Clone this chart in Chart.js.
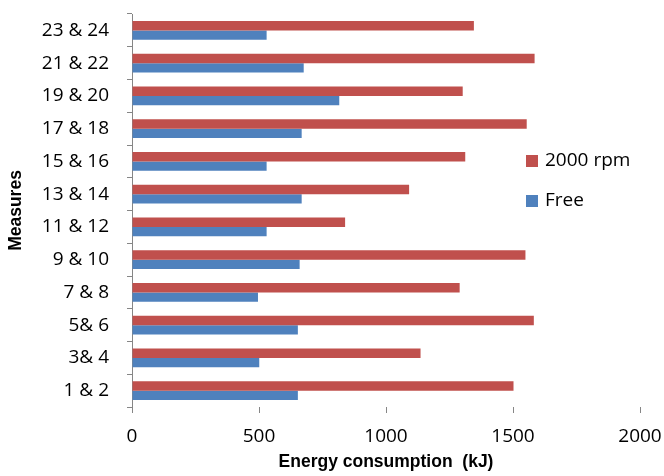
<!DOCTYPE html>
<html>
<head>
<meta charset="utf-8">
<title>Energy consumption</title>
<script src="https://cdn.jsdelivr.net/npm/chart.js@4/dist/chart.umd.min.js"></script>
<style>
  body { margin: 0; background: #ffffff; }
</style>
</head>
<body>
<canvas id="energyChart" width="664" height="476"></canvas>
<script>
// values (kJ), bottom category first
let measures = ['1 & 2', '3& 4', '5& 6', '7 & 8', '9 & 10', '11 & 12', '13 & 14', '15 & 16', '17 & 18', '19 & 20', '21 & 22', '23 & 24'];
let rpm2000 = [1502, 1136, 1582, 1290, 1549, 839, 1091, 1312, 1554, 1302, 1585, 1346];
let free = [653, 501, 653, 496, 660, 530, 668, 530, 668, 816, 676, 530];
let xTicks = [0, 500, 1000, 1500, 2000];

let tickFont = { family: "'Open Sans', sans-serif", size: 19 };
let titleFont = { family: "'Liberation Sans', Arial, sans-serif", size: 17.5, weight: 'bold' };
let axisGrey = '#868686';

// legend drawn inside the plot area, on the right, like the original
const sideLegend = {
	id: 'sideLegend',
	afterDraw(chart) {
		let ctx = chart.ctx;
		let area = chart.chartArea;
		ctx.save();
		ctx.font = "19px 'Open Sans', sans-serif";
		ctx.textBaseline = 'middle';
		ctx.textAlign = 'left';
		chart.data.datasets.forEach((ds, i) => {
			let x = area.right - 114;
			let y = area.top + 147 + i * 40;
			ctx.fillStyle = ds.backgroundColor;
			ctx.fillRect(x, y - 6, 12, 12);
			ctx.fillStyle = '#000000';
			ctx.fillText(ds.label, x + 19, y);
		});
		ctx.restore();
	}
};

let target = document.getElementById('energyChart');
new Chart(target, {
	type : 'bar',
	data : {
		labels : measures,
		datasets : [{
			label : '2000 rpm',
			data : rpm2000,
			backgroundColor : '#C0504D'
		}, {
			label : 'Free',
			data : free,
			backgroundColor : '#4F81BD'
		}]
	},
	plugins : [sideLegend],
	options : {
		indexAxis : 'y',
		responsive : false,
		animation : false,
		categoryPercentage : 0.58,
		barPercentage : 1.0,
		layout : { padding : { left : 3, top : 14, right : 24, bottom : 0 } },
		plugins : {
			legend : { display : false },
			tooltip : { enabled : false }
		},
		scales : {
			x : {
				min : 0,
				max : 2000,
				afterBuildTicks : scale => { scale.ticks = xTicks.map(v => ({ value : v })); },
				afterFit : scale => {
					scale.height = 69;
					scale.paddingLeft = 0;
					scale.paddingRight = 0;
				},
				border : { display : false },
				grid : { drawOnChartArea : false, drawTicks : true, tickLength : 6, color : axisGrey },
				ticks : { font : tickFont, color : '#000000', padding : 12, callback : value => String(value) },
				title : { display : true, text : 'Energy consumption  (kJ)', font : titleFont, color : '#000000', padding : { top : 4, bottom : 3 } }
			},
			y : {
				reverse : true,
				afterFit : scale => {
					scale.width = 129;
					scale.paddingTop = 0;
					scale.paddingBottom = 0;
				},
				border : { display : true, color : axisGrey, width : 1 },
				grid : { drawOnChartArea : false, drawTicks : true, tickLength : 5, color : axisGrey },
				ticks : { font : tickFont, color : '#000000', padding : 18 },
				title : { display : true, text : 'Measures', font : titleFont, color : '#000000', padding : { top : 3, bottom : 14 } }
			}
		}
	}
});
</script>
</body>
</html>
